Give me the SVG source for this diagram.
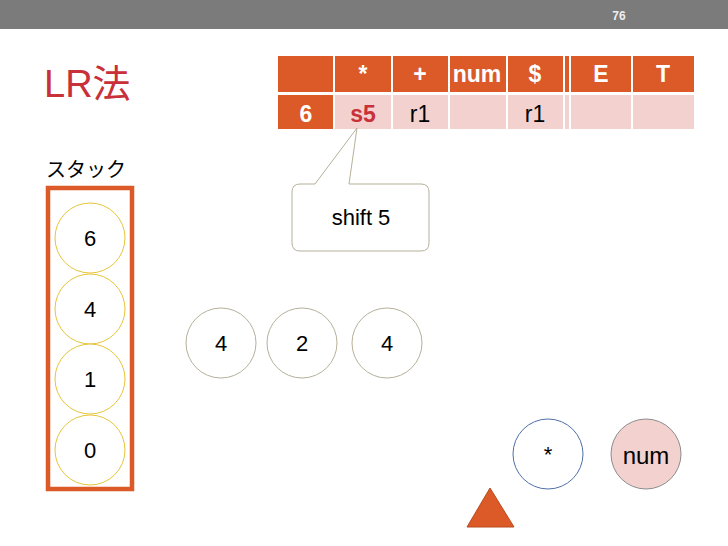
<svg xmlns="http://www.w3.org/2000/svg" width="728" height="546" viewBox="0 0 728 546">
<style>
text{font-family:"Liberation Sans",Arial,"Noto Sans CJK JP",sans-serif}
.hd{fill:#DB5A27}
.bd{fill:#F2D1CF}
.ht{fill:#fff;font-weight:bold;font-size:23px;text-anchor:middle}
.bt{fill:#000;font-size:23px;text-anchor:middle}
.cl{font-size:22px;text-anchor:middle;fill:#000}
.stk{fill:#fff;stroke:#E6C53A;stroke-width:1}
.mid{fill:#fff;stroke:#B5B19A;stroke-width:1}
</style>
<rect x="0" y="0" width="728" height="546" fill="#fff"/>
<rect x="0" y="0" width="728" height="29" fill="#7B7B7B"/>
<text x="619" y="20" font-size="12" font-weight="bold" fill="#eee" text-anchor="middle">76</text>
<text x="44" y="97" font-size="38" fill="#C8303A">LR法</text>
<g id="table">
<rect class="hd" x="278" y="56" width="55" height="36"/>
<rect class="hd" x="335" y="56" width="56" height="36"/>
<rect class="hd" x="393" y="56" width="55" height="36"/>
<rect class="hd" x="450" y="56" width="56" height="36"/>
<rect class="hd" x="508" y="56" width="55" height="36"/>
<rect class="hd" x="565" y="56" width="4" height="36"/>
<rect class="hd" x="571" y="56" width="60" height="36"/>
<rect class="hd" x="633" y="56" width="61" height="36"/>
<rect class="hd" x="278" y="95" width="55" height="34"/>
<rect class="bd" x="335" y="95" width="56" height="34"/>
<rect class="bd" x="393" y="95" width="55" height="34"/>
<rect class="bd" x="450" y="95" width="56" height="34"/>
<rect class="bd" x="508" y="95" width="55" height="34"/>
<rect class="bd" x="565" y="95" width="4" height="34"/>
<rect class="bd" x="571" y="95" width="60" height="34"/>
<rect class="bd" x="633" y="95" width="61" height="34"/>
<text class="ht" x="363" y="82">*</text>
<text class="ht" x="420" y="82">+</text>
<text class="ht" x="477" y="82">num</text>
<text class="ht" x="535" y="82">$</text>
<text class="ht" x="601" y="82">E</text>
<text class="ht" x="663" y="82">T</text>
<text class="ht" x="306" y="122">6</text>
<text class="bt" x="363" y="122" font-weight="bold" style="fill:#C8303A">s5</text>
<text class="bt" x="420" y="122">r1</text>
<text class="bt" x="535" y="122">r1</text>
</g>
<g id="callout">
<path d="M300,184 H315 L357,128 L349,184 H421 Q429,184 429,192 V243 Q429,251 421,251 H300 Q292,251 292,243 V192 Q292,184 300,184 Z" fill="#fff" stroke="#B5B19A" stroke-width="1"/>
<text class="cl" x="361" y="225">shift 5</text>
</g>
<text x="46" y="177" font-size="20" fill="#000">スタック</text>
<g id="stack">
<rect x="48" y="188" width="84" height="301" fill="none" stroke="#DB5A27" stroke-width="4.5"/>
<g id="s6"><circle class="stk" cx="90" cy="238" r="35"/><text class="cl" x="90" y="246">6</text></g>
<g id="s4"><circle class="stk" cx="90" cy="309" r="35"/><text class="cl" x="90" y="317">4</text></g>
<g id="s1"><circle class="stk" cx="90" cy="379" r="35"/><text class="cl" x="90" y="387">1</text></g>
<g id="s0"><circle class="stk" cx="90" cy="450" r="35"/><text class="cl" x="90" y="458">0</text></g>
</g>
<g id="m1"><circle class="mid" cx="221" cy="343" r="35"/><text class="cl" x="221" y="351">4</text></g>
<g id="m2"><circle class="mid" cx="302" cy="343" r="35"/><text class="cl" x="302" y="351">2</text></g>
<g id="m3"><circle class="mid" cx="387" cy="343" r="35"/><text class="cl" x="387" y="351">4</text></g>
<g id="star"><circle cx="548" cy="454" r="35" fill="#fff" stroke="#4F6FA8" stroke-width="1"/><text class="cl" x="548" y="462">*</text></g>
<g id="num"><circle cx="646" cy="454" r="35" fill="#F2D1CF" stroke="#8C8C8C" stroke-width="1"/><text class="cl" x="646" y="464" style="font-size:24px">num</text></g>
<g id="pointer"><polygon points="467,527 514,527 490,488" fill="#DB5A27" stroke="#B84A1E" stroke-width="1"/></g>
</svg>
